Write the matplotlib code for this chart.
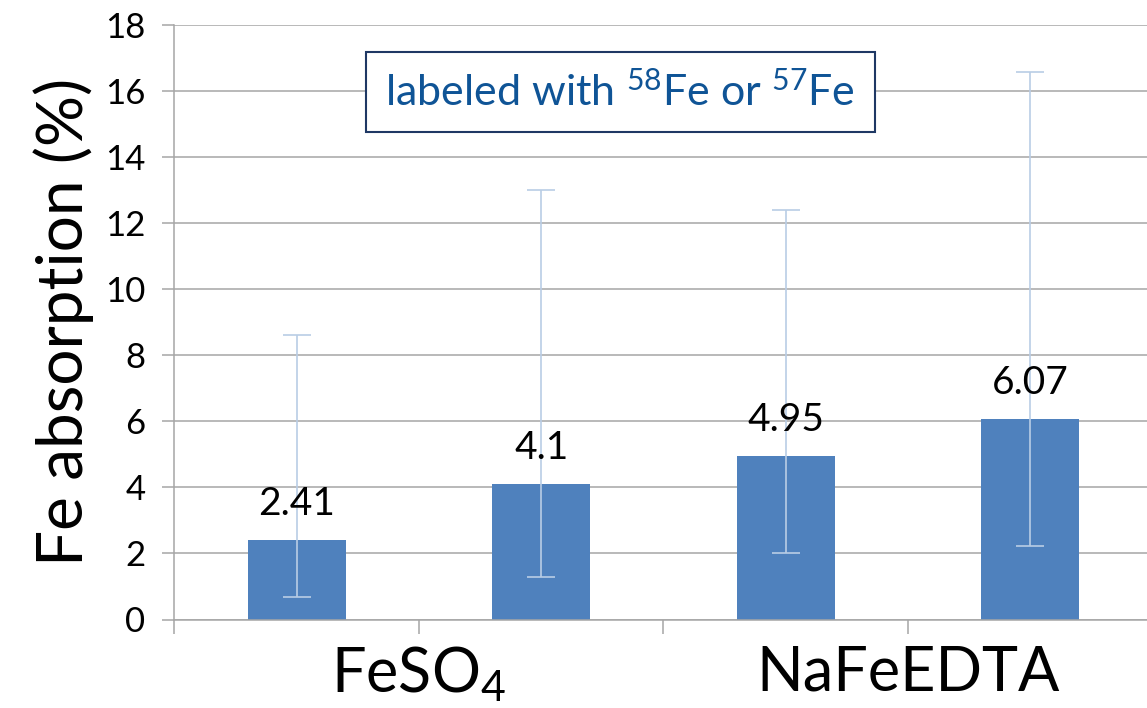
import numpy as np
import matplotlib
matplotlib.use("Agg")
import matplotlib.pyplot as plt

plt.rcParams['font.family'] = ['Lato', 'DejaVu Sans']
plt.rcParams['mathtext.fontset'] = 'custom'
plt.rcParams['mathtext.rm'] = 'Lato'
plt.rcParams['mathtext.it'] = 'Lato:italic'
plt.rcParams['mathtext.bf'] = 'Lato:bold'

# data
groups = ["FeSO$_4$", "NaFeEDTA"]
values = [2.41, 4.1, 4.95, 6.07]
err_low = [0.68, 1.3, 2.0, 2.23]     # lower end of error bar
err_high = [8.6, 13.0, 12.4, 16.57]  # upper end of error bar
yticks = np.arange(0, 19, 2)

bar_col = '#4f81bd'
err_col = '#b9cde5'
grid_col = '#a6a6a6'

fig = plt.figure(figsize=(11.47, 7.08), dpi=100)
ax = fig.add_axes([0.1521, 0.125, 0.8527, 0.8397])

x = np.arange(len(values))
vals = np.array(values)
yerr = [vals - np.array(err_low), np.array(err_high) - vals]

bars = ax.bar(x, vals, width=0.4, color=bar_col, zorder=2)
ax.errorbar(x, vals, yerr=yerr, fmt='none', ecolor=err_col, elinewidth=1.2,
            capsize=10, capthick=1.2, zorder=3)
ax.bar_label(bars, labels=[f"{v:g}" for v in values], padding=13, fontsize=28, zorder=4)

ax.set_xlim(-0.5, 3.5)
ax.set_ylim(0, 18)
ax.set_yticks(yticks)
ax.yaxis.grid(True, color=grid_col, linewidth=1.1, zorder=0)
ax.set_axisbelow(True)

# category boundaries as tick marks, group names on the middle ones
ax.set_xticks(np.arange(-0.5, 4, 1))
ax.set_xticklabels(["", groups[0], "", groups[1], ""], fontsize=44)
ax.tick_params(axis='x', length=10, width=1.1, color=grid_col, pad=8)
ax.tick_params(axis='y', length=9, width=1.1, color=grid_col, labelsize=25, pad=12)

for s in ['top', 'right']:
    ax.spines[s].set_visible(False)
for s in ['left', 'bottom']:
    ax.spines[s].set_color(grid_col)
    ax.spines[s].set_linewidth(1.1)

ax.set_ylabel("Fe absorption (%)", fontsize=46, labelpad=8)

ax.text(0.456, 0.887, "labeled with $^{58}$Fe or $^{57}$Fe", transform=ax.transAxes,
        ha='center', va='center', fontsize=31, color='#0f5496',
        bbox=dict(boxstyle='square,pad=0.45', facecolor='white', edgecolor='#1f3864', linewidth=1.5))

fig.savefig("out.png", dpi=100)
